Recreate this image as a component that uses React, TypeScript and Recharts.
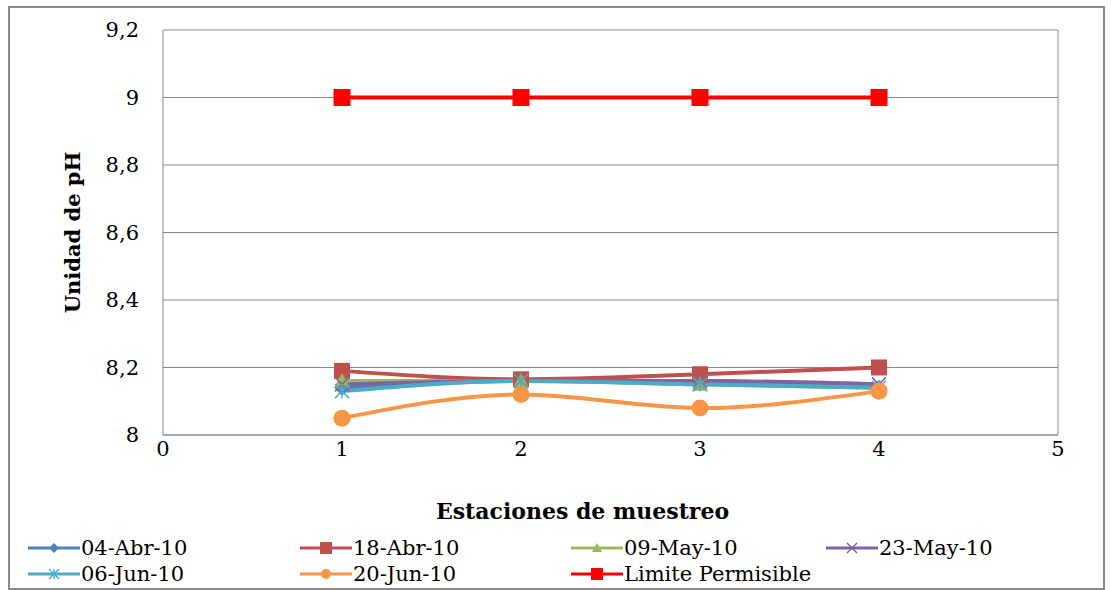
import React from "react";
import {
  LineChart,
  Line,
  XAxis,
  YAxis,
  CartesianGrid,
  ReferenceLine,
  Label,
} from "recharts";

const estaciones = [1, 2, 3, 4];
const abr04 = [8.14, 8.16, 8.16, 8.14];
const abr18 = [8.19, 8.165, 8.18, 8.2];
const may09 = [8.16, 8.16, 8.15, 8.14];
const may23 = [8.15, 8.16, 8.16, 8.15];
const jun06 = [8.13, 8.16, 8.15, 8.14];
const jun20 = [8.05, 8.12, 8.08, 8.13];
const limite = [9, 9, 9, 9];
const yTicks = [8, 8.2, 8.4, 8.6, 8.8, 9, 9.2];
const xTicks = [0, 1, 2, 3, 4, 5];

type Shape = "diamond" | "square" | "triangle" | "x" | "star" | "circle";

const series: { key: string; name: string; color: string; shape: Shape; size: number; values: number[] }[] = [
  { key: "a04", name: "04-Abr-10", color: "#4F81BD", shape: "diamond", size: 8, values: abr04 },
  { key: "a18", name: "18-Abr-10", color: "#C0504D", shape: "square", size: 8, values: abr18 },
  { key: "m09", name: "09-May-10", color: "#9BBB59", shape: "triangle", size: 8, values: may09 },
  { key: "m23", name: "23-May-10", color: "#8064A2", shape: "x", size: 7, values: may23 },
  { key: "j06", name: "06-Jun-10", color: "#4BACC6", shape: "star", size: 7, values: jun06 },
  { key: "j20", name: "20-Jun-10", color: "#F79646", shape: "circle", size: 8.5, values: jun20 },
  { key: "lim", name: "Limite Permisible", color: "#FF0000", shape: "square", size: 8.5, values: limite },
];

const data = estaciones.map((x, i) => {
  const row: Record<string, number> = { x };
  series.forEach((s) => (row[s.key] = s.values[i]));
  return row;
});

const FONT = "'DejaVu Serif', 'Liberation Serif', serif";

function marker(shape: Shape, color: string, r: number, cx: number, cy: number, key?: string) {
  switch (shape) {
    case "diamond":
      return <polygon key={key} points={`${cx},${cy - r} ${cx + r},${cy} ${cx},${cy + r} ${cx - r},${cy}`} fill={color} />;
    case "square":
      return <rect key={key} x={cx - r} y={cy - r} width={2 * r} height={2 * r} fill={color} />;
    case "triangle":
      return <polygon key={key} points={`${cx},${cy - r} ${cx + r},${cy + r * 0.8} ${cx - r},${cy + r * 0.8}`} fill={color} />;
    case "x":
      return (
        <g key={key} stroke={color} strokeWidth={1.5}>
          <line x1={cx - r} y1={cy - r} x2={cx + r} y2={cy + r} />
          <line x1={cx - r} y1={cy + r} x2={cx + r} y2={cy - r} />
        </g>
      );
    case "star":
      return (
        <g key={key} stroke={color} strokeWidth={1.5}>
          <line x1={cx - r} y1={cy - r} x2={cx + r} y2={cy + r} />
          <line x1={cx - r} y1={cy + r} x2={cx + r} y2={cy - r} />
          <line x1={cx} y1={cy - r} x2={cx} y2={cy + r} />
        </g>
      );
    default:
      return <circle key={key} cx={cx} cy={cy} r={r} fill={color} />;
  }
}

const makeDot = (shape: Shape, color: string, r: number) => (props: any) =>
  marker(shape, color, r, props.cx, props.cy, `${shape}-${props.index}`);

const Legend: React.FC = () => {
  const cols = [28, 300, 571, 826];
  return (
    <>
      {series.map((s, i) => {
        const left = cols[i % 4];
        const top = i < 4 ? 535 : 561;
        return (
          <div
            key={s.key}
            style={{ position: "absolute", left, top, display: "flex", alignItems: "center", fontFamily: FONT, fontSize: 21, lineHeight: "26px", color: "#000" }}
          >
            <svg width={52} height={26}>
              <line x1={0} y1={13} x2={52} y2={13} stroke={s.color} strokeWidth={3} />
              {marker(s.shape, s.color, s.shape === "square" ? 6 : 5, 26, 13)}
            </svg>
            <span style={{ marginLeft: 1 }}>{s.name}</span>
          </div>
        );
      })}
    </>
  );
};

export default function App() {
  return (
    <div style={{ position: "absolute", left: 0, top: 0, width: 1111, height: 590, background: "#fff" }}>
      <div
        style={{ position: "absolute", left: 8, top: 6, width: 1093, height: 580, border: "2px solid #8a8a8a" }}
      />
      <LineChart
        width={1111}
        height={590}
        data={data}
        margin={{ top: 30, right: 53, left: 43, bottom: 125 }}
        style={{ position: "absolute", left: 0, top: 0 }}
      >
        <CartesianGrid horizontal vertical={false} stroke="#8a8a8a" strokeWidth={1} />
        <XAxis
          dataKey="x"
          type="number"
          domain={[0, 5]}
          ticks={xTicks}
          height={30}
          axisLine={{ stroke: "#8a8a8a" }}
          tickLine={false}
          tick={{ fill: "#000", fontSize: 21, fontFamily: FONT }}
          tickMargin={0}
        >
          <Label
            value="Estaciones de muestreo"
            position="bottom"
            offset={38}
            dx={-28}
            style={{ fontFamily: FONT, fontSize: 22, fontWeight: "bold", fill: "#000" }}
          />
        </XAxis>
        <YAxis
          type="number"
          domain={[8, 9.2]}
          ticks={yTicks}
          width={120}
          axisLine={{ stroke: "#8a8a8a" }}
          tickLine={false}
          tickMargin={18}
          tickFormatter={(v: number) => String(Math.round(v * 10) / 10).replace(".", ",")}
          tick={{ fill: "#000", fontSize: 21, fontFamily: FONT }}
        >
          <Label
            value="Unidad de pH"
            angle={-90}
            position="insideLeft"
            offset={30}
            style={{ textAnchor: "middle", fontFamily: FONT, fontSize: 21, fontWeight: "bold", fill: "#000" }}
          />
        </YAxis>
        <ReferenceLine x={5} stroke="#8a8a8a" />
        {series.map((s) => (
          <Line
            key={s.key}
            dataKey={s.key}
            name={s.name}
            type="monotone"
            stroke={s.color}
            strokeWidth={4}
            dot={makeDot(s.shape, s.color, s.size)}
            activeDot={false}
            isAnimationActive={false}
          />
        ))}
      </LineChart>
      <Legend />
    </div>
  );
}
